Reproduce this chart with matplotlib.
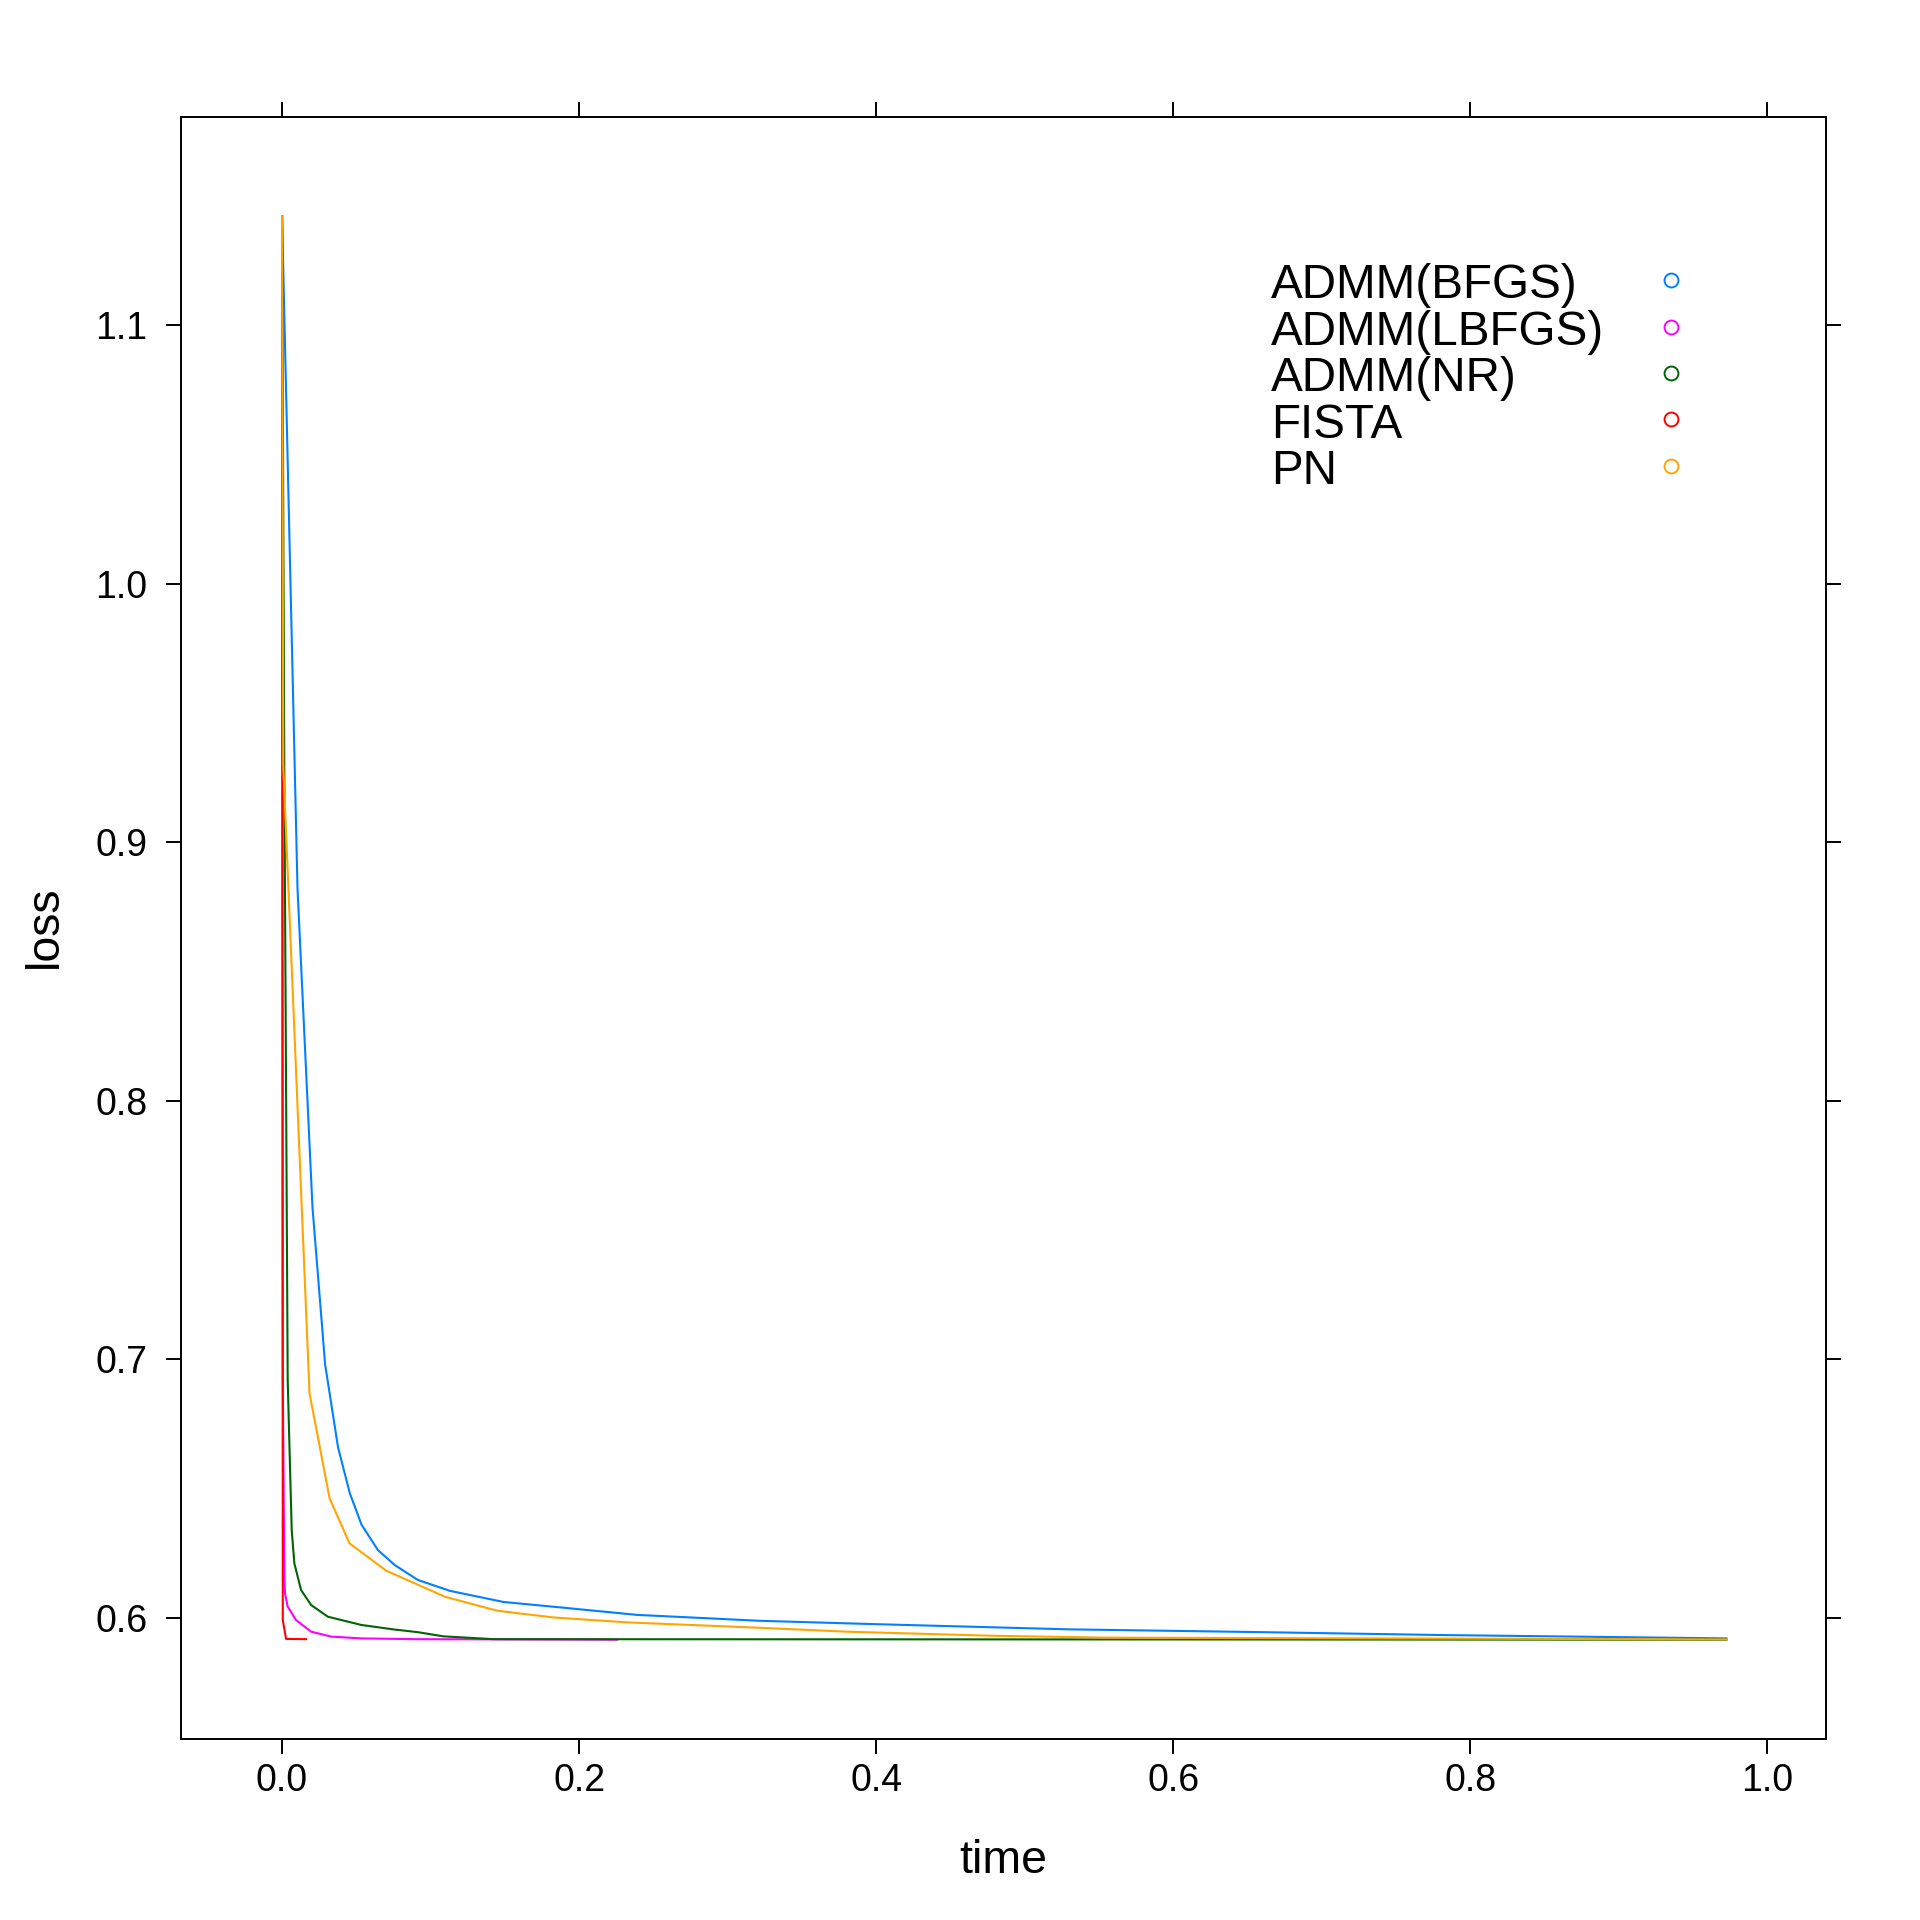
import matplotlib
matplotlib.use("Agg")
import matplotlib.pyplot as plt

plt.rcParams["font.family"] = ["Liberation Sans", "DejaVu Sans"]

# values (time in seconds, loss)
bfgs_time = [0.0, 0.0104, 0.0205, 0.0290, 0.0377, 0.0456, 0.0535, 0.0645, 0.0758, 0.0915,
             0.1130, 0.1490, 0.1872, 0.2389, 0.3220, 0.4000, 0.5300, 0.6500, 0.7800, 0.9725]
bfgs_loss = [1.1422, 0.8822, 0.7587, 0.6980, 0.6659, 0.6482, 0.6360, 0.6262, 0.6204, 0.6146,
             0.6104, 0.6061, 0.6040, 0.6011, 0.5988, 0.5975, 0.5955, 0.5945, 0.5933, 0.5920]

lbfgs_time = [0.0, 0.0005, 0.0012, 0.0016, 0.0020, 0.0038, 0.0094, 0.0196, 0.0330, 0.0533,
              0.0900, 0.2254]
lbfgs_loss = [1.1422, 0.6920, 0.6400, 0.6146, 0.6094, 0.6043, 0.5991, 0.5946, 0.5927, 0.5920,
              0.5917, 0.5915]

nr_time = [0.0, 0.0015, 0.0020, 0.0038, 0.0050, 0.0065, 0.0083, 0.0128, 0.0196, 0.0308,
           0.0533, 0.0748, 0.0915, 0.1085, 0.1422, 0.9725]
nr_loss = [1.1422, 0.9300, 0.8780, 0.6920, 0.6661, 0.6339, 0.6210, 0.6107, 0.6049, 0.6004,
           0.5972, 0.5955, 0.5944, 0.5928, 0.5917, 0.5915]

fista_time = [0.0, 0.0005, 0.0027, 0.0162]
fista_loss = [1.1422, 0.5991, 0.5918, 0.5917]

pn_time = [0.0, 0.0008, 0.0185, 0.0320, 0.0454, 0.0701, 0.1097, 0.1449, 0.1827, 0.2322,
           0.3220, 0.3800, 0.4794, 0.5536, 0.9725]
pn_loss = [1.1422, 0.9300, 0.6868, 0.6462, 0.6288, 0.6182, 0.6081, 0.6027, 0.6001, 0.5982,
           0.5961, 0.5946, 0.5930, 0.5923, 0.5916]

names  = ["ADMM(BFGS)", "ADMM(LBFGS)", "ADMM(NR)", "FISTA", "PN"]
colors = ["#0080ff", "#ff00ff", "#006400", "#ff0000", "#ffa500"]
series = [(bfgs_time, bfgs_loss), (lbfgs_time, lbfgs_loss), (nr_time, nr_loss),
          (fista_time, fista_loss), (pn_time, pn_loss)]

fig = plt.figure(figsize=(19.2, 19.2), dpi=100)
ax = fig.add_axes([0.0943, 0.0943, 0.8567, 0.8448])

for (t, l), c in zip(series, colors):
    ax.plot(t, l, color=c, linewidth=1.5)

ax.set_xlim(-0.068, 1.0395)
ax.set_ylim(0.5531, 1.1806)
ax.set_xticks([0.0, 0.2, 0.4, 0.6, 0.8, 1.0])
ax.set_xticklabels(["0.0", "0.2", "0.4", "0.6", "0.8", "1.0"])
ax.set_yticks([0.6, 0.7, 0.8, 0.9, 1.0, 1.1])
ax.set_yticklabels(["0.6", "0.7", "0.8", "0.9", "1.0", "1.1"])

for s in ax.spines.values():
    s.set_linewidth(1.4)
ax.tick_params(direction="out", length=11, width=1.4, labelsize=27,
               top=True, right=True, labeltop=False, labelright=False)
ax.tick_params(axis="x", pad=6)
ax.tick_params(axis="y", pad=13)

fig.text(1003 / 1920, 1 - 1873 / 1920, "time", ha="center", va="baseline", fontsize=33.5)
fig.text(45 / 1920, 1 - 927 / 1920, "loss", ha="center", va="center",
         rotation=90, fontsize=33.5)

# key: text on the left, open circle on the right
row_y = [0.8995, 0.8707, 0.8424, 0.8136, 0.7848]
for name, c, y in zip(names, colors, row_y):
    ax.text(0.6626, y - 0.0113, name, transform=ax.transAxes, ha="left",
            va="baseline", fontsize=34.3)
    ax.plot([0.9056], [y], transform=ax.transAxes, marker="o", markersize=10,
            markerfacecolor="none", markeredgecolor=c, markeredgewidth=1.4,
            linestyle="none", clip_on=False)

fig.savefig("out.png", dpi=100)
